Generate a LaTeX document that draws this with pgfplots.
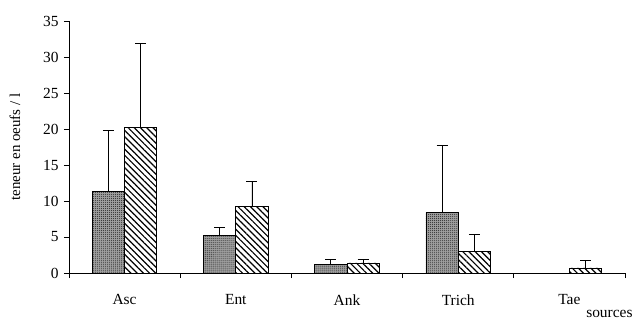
\documentclass[border=0pt]{standalone}
\usepackage{fontspec}
\setmainfont{Liberation Serif}
\usepackage{pgfplots}
\pgfplotsset{compat=1.18}
\usetikzlibrary{patterns,patterns.meta}
\begin{document}
\begin{tikzpicture}
\useasboundingbox (-69bp,-49bp) rectangle (572bp,273bp);
\begin{axis}[
  scale only axis,
  width=556bp, height=252bp,
  at={(0,0)}, anchor=south west,
  xmin=-0.5, xmax=4.5,
  ymin=0, ymax=35,
  axis lines*=left,
  axis line style={line width=0.8pt},
  ytick={0,5,...,35},
  xtick={0,1,2,3,4},
  xticklabels={Asc,Ent,Ank,Trich,Tae},
  minor xtick={-0.5,0.5,1.5,2.5,3.5,4.5},
  major x tick style={draw=none},
  minor tick length=5bp,
  major tick length=5bp,
  tick align=outside,
  tick style={line width=0.8pt, black},
  xticklabel style={yshift=-13bp},
  yticklabel style={xshift=-2bp},
  /pgf/number format/assume math mode=true,
  tick label style={font=\fontsize{15.5}{17}\selectfont},
  ylabel={teneur en oeufs / l},
  ylabel style={font=\fontsize{15}{17}\selectfont, at={(rel axis cs:0,0.5)}, yshift=54bp, anchor=center},
  ybar,
  bar width=0.29,
  clip=false,
  error bars/y dir=plus,
  error bars/y explicit,
  error bars/error mark=|,
  error bars/error mark options={line width=0.8pt, mark size=5.5bp, black},
  error bars/error bar style={line width=0.8pt, black},
]
\addplot[bar shift=-0.145, draw=black, line width=0.8pt, fill=gray!75,
  postaction={pattern={Dots[distance=2pt, radius=0.55pt]}, pattern color=black!80}]
  coordinates {(0,11.3) +- (0,8.45) (1,5.2) +- (0,1.1) (2,1.2) +- (0,0.7) (3,8.4) +- (0,9.3)};
\addplot[bar shift=0.145, draw=black, line width=0.8pt, fill=white,
  postaction={pattern={Lines[angle=-45, distance=4.4pt, line width=1.2pt]}}]
  coordinates {(0,20.2) +- (0,11.7) (1,9.2) +- (0,3.5) (2,1.4) +- (0,0.5) (3,3.0) +- (0,2.4) (4,0.7) +- (0,1.1)};
\node[anchor=base west, font=\fontsize{15.5}{17}\selectfont] at (axis cs:4.12,0) [yshift=-44bp] {sources};
\end{axis}
\end{tikzpicture}
\end{document}
